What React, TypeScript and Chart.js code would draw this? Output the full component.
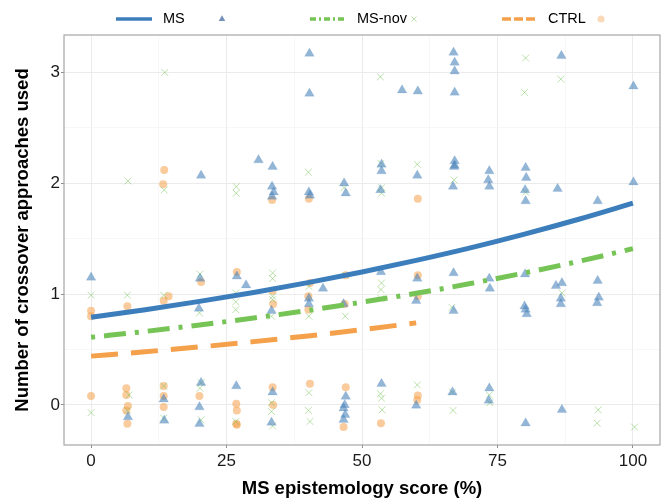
import React, { useEffect, useRef } from 'react';
import { Chart, registerables } from 'chart.js';

Chart.register(...registerables);

// ---------- data ----------
const xTickLabels = [0, 25, 50, 75, 100];
const xMinorTicks = [12.5, 37.5, 62.5, 87.5];
const yTickLabels = [0, 1, 2, 3];
const yMinorTicks = [0.5, 1.5, 2.5];

const seriesNames = ['MS', 'MS-nov', 'CTRL'];

// fitted curves
const curveX = [0, 10, 20, 30, 40, 50, 60, 70, 80, 90, 100];
const msFit = [0.79, 0.859, 0.934, 1.015, 1.103, 1.199, 1.304, 1.417, 1.541, 1.675, 1.82];
const novFit = [0.61, 0.663, 0.721, 0.784, 0.852, 0.927, 1.007, 1.095, 1.191, 1.295, 1.41];
const ctrlCurveX = [0, 10, 20, 30, 40, 50, 60];
const ctrlFit = [0.44, 0.48, 0.523, 0.571, 0.622, 0.679, 0.74];

// jittered observations [score, count]
const msPoints: [number, number][] = [
  [20.3, 2.07], [30.9, 2.21], [33.5, 2.15], [33.4, 1.97], [33.7, 1.92], [33.4, 1.88],
  [40.3, 3.17], [40.3, 2.81], [40.2, 1.92], [40.4, 1.89], [46.7, 2.0], [47.0, 1.91],
  [53.6, 2.17], [53.6, 2.11], [53.4, 1.94], [57.4, 2.84], [60.3, 2.83], [60.2, 2.07],
  [66.9, 3.18], [67.1, 3.09], [67.1, 3.01], [67.1, 2.82], [67.1, 2.2], [67.1, 2.16],
  [67.0, 2.15], [66.8, 1.97], [73.5, 2.11], [73.3, 2.03], [73.5, 1.97], [80.2, 2.14],
  [80.3, 2.05], [80.1, 1.94], [80.2, 1.84], [86.8, 3.15], [86.1, 1.95], [93.5, 1.84],
  [100.1, 2.875], [100.1, 2.01],
  [0, 1.15], [20.1, 1.14], [19.9, 0.87], [26.9, 1.16], [28.6, 1.08], [33.3, 0.85],
  [40.2, 0.96], [40.2, 0.91], [42.8, 1.05], [46.6, 0.91], [53.5, 1.2], [60.2, 1.14],
  [60.0, 0.94], [66.9, 1.19], [66.9, 0.85], [73.5, 1.14], [73.6, 1.05], [80.1, 1.18],
  [80.0, 0.89], [80.2, 0.86], [80.4, 0.82], [85.8, 1.075], [86.9, 1.1], [86.7, 0.96],
  [86.7, 0.91], [93.5, 1.12], [93.7, 0.97], [93.4, 0.92],
  [6.8, -0.11], [13.4, 0.05], [13.5, -0.14], [20.3, 0.2], [20.0, -0.02], [20.0, -0.17],
  [26.8, 0.17], [33.5, 0.115], [33.3, -0.16], [47.0, 0.075], [46.8, 0.0], [46.6, -0.03],
  [46.9, -0.09], [46.6, -0.135], [53.6, 0.19], [60.0, -0.005], [66.7, 0.115], [73.5, 0.15],
  [73.4, 0.04], [80.2, -0.165], [86.9, -0.045],
];

const novPoints: [number, number][] = [
  [13.6, 3.0], [6.8, 2.02], [13.5, 1.94], [26.8, 1.97], [26.8, 1.91], [40.1, 2.1],
  [46.7, 1.96], [53.4, 2.96], [53.5, 2.18], [53.6, 1.96], [53.6, 1.91], [60.2, 2.17],
  [67.0, 2.03], [80.2, 3.13], [80.0, 2.82], [86.7, 2.94], [80.2, 1.92],
  [0, 0.99], [6.7, 0.99], [13.4, 0.99], [20.1, 1.18], [20.0, 0.83], [26.7, 1.01],
  [26.7, 0.93], [26.7, 0.86], [33.5, 1.19], [33.5, 1.14], [33.5, 0.98], [33.5, 0.95],
  [33.3, 0.8], [40.2, 1.07], [40.2, 0.8], [47.0, 1.17], [46.9, 0.8], [53.6, 1.1],
  [53.5, 1.04], [53.5, 0.96], [66.6, 0.88], [86.9, 1.01],
  [0, -0.07], [7.0, 0.09], [6.7, -0.05], [13.4, 0.17], [13.4, -0.12], [20.3, 0.2],
  [20.1, 0.15], [20.3, -0.135], [26.7, -0.15], [33.3, 0.02], [33.3, -0.06], [33.5, -0.19],
  [40.2, 0.11], [40.1, -0.05], [40.4, -0.15], [53.4, 0.1], [53.6, 0.06], [53.7, -0.045],
  [60.2, 0.18], [66.7, 0.115], [66.8, -0.05], [73.5, 0.09], [73.6, 0.02], [93.6, -0.045],
  [93.4, -0.165], [100.3, -0.2],
];

const ctrlPoints: [number, number][] = [
  [13.5, 2.12], [13.3, 1.99], [33.4, 1.85], [40.2, 1.86], [60.3, 1.86],
  [0, 0.85], [0, 0.8], [6.7, 0.89], [13.4, 0.94], [14.3, 0.98], [20.3, 1.11],
  [26.9, 1.2], [33.5, 1.03], [33.6, 0.91], [40.4, 1.1], [40.1, 0.98], [40.1, 0.86],
  [47.0, 1.17], [46.8, 0.91], [60.3, 1.17], [60.3, 0.98],
  [0, 0.08], [6.5, 0.15], [6.5, 0.09], [6.8, -0.01], [6.5, -0.05], [6.7, -0.17],
  [13.4, 0.17], [13.4, 0.08], [13.4, -0.02], [20.0, 0.08], [26.8, 0.01], [26.9, -0.05],
  [26.8, -0.17], [26.9, -0.18], [33.5, 0.16], [33.6, 0.0], [40.4, 0.19], [47.0, 0.16],
  [46.6, -0.2], [53.5, -0.165], [60.3, 0.085], [60.2, 0.045],
];

// ---------- styles ----------
const FONT = "'Liberation Sans', Arial, Helvetica, sans-serif";
const BLUE = '#3C7EBC';
const GREEN = '#76C456';
const ORANGE = '#F5A04B';
const BLUE_PT = 'rgba(70,130,185,0.58)';
const GREEN_PT = 'rgba(120,195,90,0.5)';
const ORANGE_PT = 'rgba(245,160,75,0.55)';

const toXY = (xs: number[], ys: number[]) => xs.map((x, i) => ({ x, y: ys[i] }));
const pairs = (p: [number, number][]) => p.map(([x, y]) => ({ x, y }));

const borderPlugin = {
  id: 'panelBorder',
  afterDraw(chart: any) {
    const { ctx, chartArea: a } = chart;
    ctx.save();
    ctx.strokeStyle = '#A6A6A6';
    ctx.lineWidth = 1.2;
    ctx.strokeRect(a.left, a.top, a.right - a.left, a.bottom - a.top);
    ctx.restore();
  },
};

const legendPlugin = {
  id: 'ggLegend',
  afterDraw(chart: any) {
    const ctx = chart.ctx as CanvasRenderingContext2D;
    const y = 19;
    ctx.save();
    ctx.lineCap = 'butt';
    const items = [
      { name: seriesNames[0], color: BLUE, dash: [] as number[], x0: 116, x1: 152, tx: 163, mx: 222, marker: 'tri' },
      { name: seriesNames[1], color: GREEN, dash: [6, 3, 2, 3], x0: 310, x1: 345, tx: 357, mx: 414, marker: 'x' },
      { name: seriesNames[2], color: ORANGE, dash: [9, 3], x0: 502, x1: 535, tx: 548, mx: 601, marker: 'dot' },
    ];
    for (const it of items) {
      ctx.strokeStyle = it.color;
      ctx.lineWidth = 3.4;
      ctx.setLineDash(it.dash);
      ctx.beginPath();
      ctx.moveTo(it.x0, y);
      ctx.lineTo(it.x1, y);
      ctx.stroke();
      ctx.setLineDash([]);
      ctx.fillStyle = '#000';
      ctx.font = `14.5px ${FONT}`;
      ctx.textBaseline = 'middle';
      ctx.textAlign = 'left';
      ctx.fillText(it.name, it.tx, y);
      if (it.marker === 'tri') {
        const r = 3.8;
        ctx.fillStyle = 'rgba(70,110,160,0.75)';
        ctx.beginPath();
        ctx.moveTo(it.mx, y - r);
        ctx.lineTo(it.mx + r * 0.866, y + r * 0.5);
        ctx.lineTo(it.mx - r * 0.866, y + r * 0.5);
        ctx.closePath();
        ctx.fill();
      } else if (it.marker === 'x') {
        const r = 2.5;
        ctx.strokeStyle = GREEN_PT;
        ctx.lineWidth = 1;
        ctx.beginPath();
        ctx.moveTo(it.mx - r, y - r);
        ctx.lineTo(it.mx + r, y + r);
        ctx.moveTo(it.mx - r, y + r);
        ctx.lineTo(it.mx + r, y - r);
        ctx.stroke();
      } else {
        ctx.fillStyle = 'rgba(245,170,100,0.45)';
        ctx.beginPath();
        ctx.arc(it.mx, y, 3.6, 0, Math.PI * 2);
        ctx.fill();
      }
    }
    ctx.restore();
  },
};

export default function App() {
  const ref = useRef<HTMLCanvasElement>(null);

  useEffect(() => {
    if (!ref.current) return;
    Chart.defaults.font.family = FONT;
    const lineCommon = {
      pointRadius: 0,
      showLine: true,
      borderWidth: 5,
      fill: false,
      cubicInterpolationMode: 'monotone' as const,
    };
    const chart = new Chart(ref.current, {
      type: 'scatter',
      data: {
        datasets: [
          { label: 'MS fit', data: toXY(curveX, msFit), borderColor: BLUE, ...lineCommon },
          { label: 'MS-nov fit', data: toXY(curveX, novFit), borderColor: GREEN, borderDash: [4, 9, 22, 9], ...lineCommon },
          { label: 'CTRL fit', data: toXY(ctrlCurveX, ctrlFit), borderColor: ORANGE, borderDash: [27, 13], ...lineCommon },
          {
            label: 'MS', data: pairs(msPoints), pointStyle: 'triangle', pointRadius: 5.5,
            backgroundColor: BLUE_PT, borderColor: 'rgba(70,130,185,0.3)', borderWidth: 0.5,
          },
          {
            label: 'MS-nov', data: pairs(novPoints), pointStyle: 'crossRot', pointRadius: 4.8,
            backgroundColor: GREEN_PT, borderColor: GREEN_PT, borderWidth: 1,
          },
          {
            label: 'CTRL', data: pairs(ctrlPoints), pointStyle: 'circle', pointRadius: 4,
            backgroundColor: ORANGE_PT, borderColor: 'rgba(0,0,0,0)', borderWidth: 0,
          },
        ] as any,
      },
      options: {
        responsive: false,
        animation: false,
        devicePixelRatio: 1,
        layout: { padding: { top: 35, right: 4, left: 0, bottom: 0 } },
        plugins: { legend: { display: false }, tooltip: { enabled: false } },
        scales: {
          x: {
            type: 'linear',
            min: -5,
            max: 105,
            afterBuildTicks: (s: any) => {
              s.ticks = [...xTickLabels, ...xMinorTicks].sort((a, b) => a - b).map((v) => ({ value: v }));
            },
            afterFit: (s: any) => { s.height = 55; },
            border: { display: false },
            grid: {
              color: (c: any) => (xTickLabels.includes(c.tick?.value) ? '#EBEBEB' : '#F3F3F3'),
              lineWidth: (c: any) => (xTickLabels.includes(c.tick?.value) ? 1 : 0.7),
              tickColor: (c: any) => (xTickLabels.includes(c.tick?.value) ? '#8C8C8C' : 'rgba(0,0,0,0)'),
              tickLength: 3,
            },
            ticks: {
              autoSkip: false,
              maxRotation: 0,
              padding: 3,
              color: '#1A1A1A',
              font: { size: 17 },
              callback: (v: any) => (xTickLabels.includes(v) ? String(v) : ''),
            },
            title: {
              display: true,
              text: 'MS epistemology score (%)',
              color: '#000',
              font: { size: 18.5, weight: 'bold' },
              padding: { top: 0, bottom: 0 },
            },
          },
          y: {
            type: 'linear',
            min: -0.362,
            max: 3.338,
            afterBuildTicks: (s: any) => {
              s.ticks = [...yTickLabels, ...yMinorTicks].sort((a, b) => a - b).map((v) => ({ value: v }));
            },
            afterFit: (s: any) => { s.width = 64; },
            border: { display: false },
            grid: {
              color: (c: any) => (yTickLabels.includes(c.tick?.value) ? '#EBEBEB' : '#F3F3F3'),
              lineWidth: (c: any) => (yTickLabels.includes(c.tick?.value) ? 1 : 0.7),
              tickColor: (c: any) => (yTickLabels.includes(c.tick?.value) ? '#8C8C8C' : 'rgba(0,0,0,0)'),
              tickLength: 3,
            },
            ticks: {
              autoSkip: false,
              padding: 1,
              color: '#1A1A1A',
              font: { size: 17 },
              callback: (v: any) => (yTickLabels.includes(v) ? String(v) : ''),
            },
            title: {
              display: true,
              text: 'Number of crossover approaches used',
              color: '#000',
              font: { size: 18.5, weight: 'bold' },
              padding: { top: 12, bottom: 0 },
            },
          },
        },
      },
      plugins: [borderPlugin, legendPlugin],
    });
    return () => chart.destroy();
  }, []);

  return (
    <div style={{ position: 'absolute', left: 0, top: 0, width: 666, height: 500, background: '#fff' }}>
      <canvas ref={ref} width={666} height={500} />
    </div>
  );
}
